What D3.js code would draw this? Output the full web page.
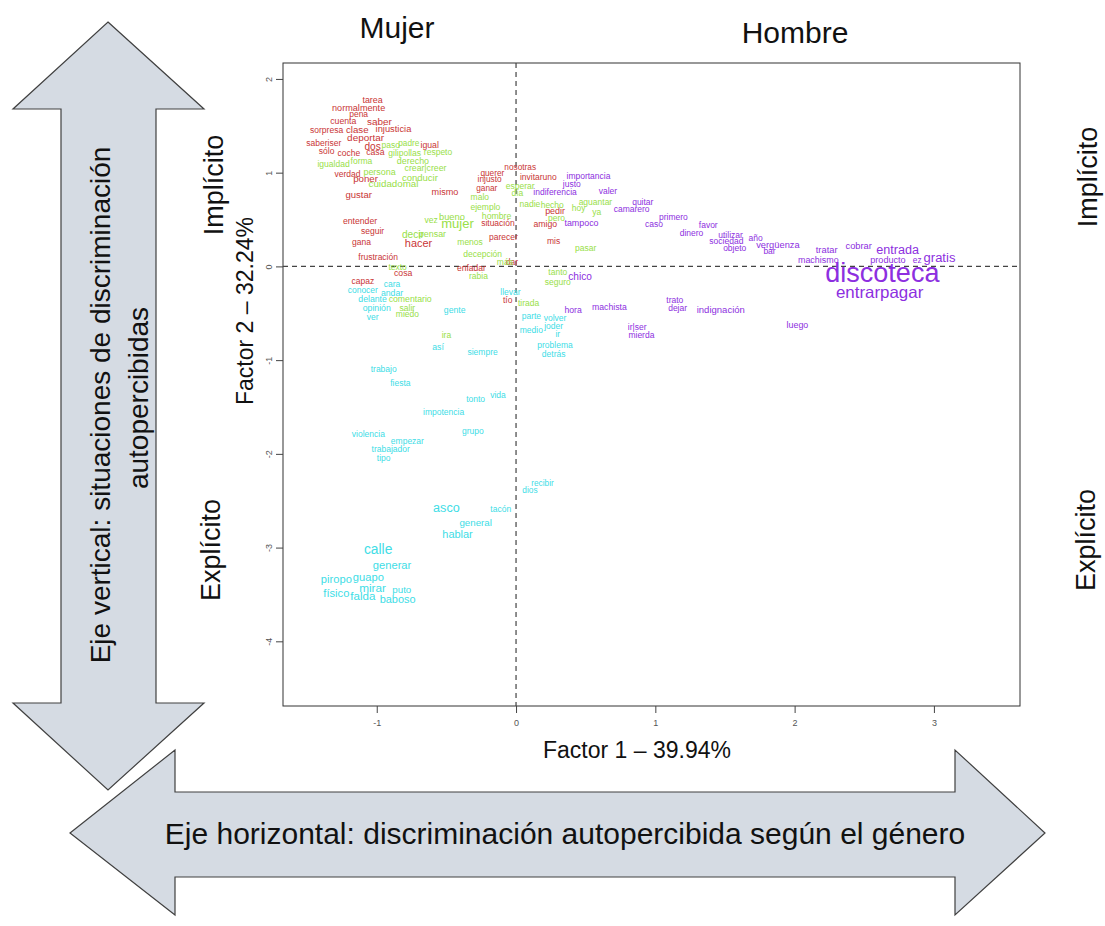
<!DOCTYPE html>
<html>
<head>
<meta charset="utf-8">
<script src="https://cdn.jsdelivr.net/npm/d3@7"></script>
<style>
body { margin: 0; background: #fff; }
text { font-family: "Liberation Sans", Arial, sans-serif; }
</style>
</head>
<body>
<svg id="chart" width="1105" height="926"></svg>
<script>
// words of the correspondence analysis: [word, factor 1, factor 2, weight]

var rojo = [
  ["tarea", -1.03, 1.78, 1.2], ["normalmente", -1.13, 1.69, 1.3], ["pena", -1.13, 1.63, 1],
  ["cuenta", -1.24, 1.55, 1.1], ["saber", -0.98, 1.55, 1.7], ["sorpresa", -1.36, 1.46, 1],
  ["clase", -1.14, 1.46, 1.6], ["injusticia", -0.88, 1.47, 1.4], ["deportar", -1.08, 1.38, 1.7],
  ["saberiser", -1.38, 1.32, 1], ["dos", -1.03, 1.28, 1.8], ["igual", -0.62, 1.30, 1.1],
  ["sólo", -1.36, 1.23, 1], ["coche", -1.20, 1.21, 1], ["casa", -1.01, 1.22, 1.1],
  ["verdad", -1.21, 0.99, 1], ["poner", -1.08, 0.94, 1.6], ["mismo", -0.51, 0.79, 1.3],
  ["gustar", -1.13, 0.77, 1.5], ["nosotras", 0.03, 1.06, 0.9], ["querer", -0.17, 1.00, 0.9],
  ["injusto", -0.19, 0.93, 0.9], ["ganar", -0.21, 0.84, 0.9], ["invitaruno", 0.16, 0.95, 1],
  ["pedir", 0.28, 0.59, 1.2], ["situación", -0.13, 0.46, 1], ["amigo", 0.21, 0.45, 1.1],
  ["parecer", -0.09, 0.31, 1], ["entender", -1.12, 0.48, 1.1], ["seguir", -1.03, 0.38, 1],
  ["gana", -1.11, 0.26, 1], ["hacer", -0.70, 0.25, 2.2], ["frustración", -0.99, 0.10, 1],
  ["mis", 0.27, 0.27, 1], ["dar", -0.03, 0.05, 1], ["enfadar", -0.32, -0.02, 1],
  ["cosa", -0.81, -0.07, 1.1], ["capaz", -1.10, -0.16, 1], ["tío", -0.06, -0.36, 1]
];

var verde = [
  ["paso", -0.90, 1.29, 1], ["padre", -0.77, 1.32, 0.9], ["gilipollas", -0.80, 1.21, 1],
  ["respeto", -0.56, 1.22, 1], ["igualdad", -1.31, 1.09, 1], ["forma", -1.11, 1.12, 1],
  ["derecho", -0.74, 1.12, 1.2], ["persona", -0.98, 1.01, 1.2], ["crear|creer", -0.65, 1.05, 1.1],
  ["conducir", -0.69, 0.95, 1.5], ["cuidadomal", -0.88, 0.88, 1.6], ["esperar", 0.03, 0.86, 1],
  ["día", 0.01, 0.78, 1], ["malo", -0.26, 0.74, 1], ["aguantar", 0.57, 0.69, 1],
  ["nadie", 0.10, 0.67, 1], ["hecho", 0.26, 0.66, 1], ["hoy", 0.45, 0.62, 1],
  ["ejemplo", -0.22, 0.63, 1], ["ya", 0.58, 0.58, 1], ["bueno", -0.46, 0.53, 1.4],
  ["hombre", -0.14, 0.54, 1.1], ["pero", 0.29, 0.52, 1], ["mujer", -0.42, 0.46, 3.2],
  ["vez", -0.61, 0.50, 1], ["pensar", -0.60, 0.35, 1.2], ["decir", -0.74, 0.34, 1.8],
  ["menos", -0.33, 0.26, 1], ["decepción", -0.24, 0.13, 1], ["pasar", 0.50, 0.20, 1],
  ["más", -0.08, 0.05, 1], ["texto", -0.85, -0.01, 1], ["rabia", -0.27, -0.10, 1],
  ["tanto", 0.30, -0.06, 1], ["seguro", 0.30, -0.17, 1], ["tirada", 0.09, -0.39, 1],
  ["comentario", -0.76, -0.35, 1.1], ["salir", -0.78, -0.44, 1], ["miedo", -0.78, -0.51, 1],
  ["ira", -0.50, -0.73, 1]
];

var cian = [
  ["llevar", -0.04, -0.27, 1], ["parte", 0.11, -0.53, 1], ["volver", 0.28, -0.55, 1],
  ["joder", 0.27, -0.64, 1], ["medio", 0.11, -0.68, 1], ["ir", 0.30, -0.72, 1],
  ["problema", 0.28, -0.84, 1], ["detrás", 0.27, -0.93, 1], ["gente", -0.44, -0.46, 1.1],
  ["cara", -0.89, -0.19, 1], ["conocer", -1.10, -0.25, 1], ["andar", -0.89, -0.28, 1.1],
  ["delante", -1.03, -0.35, 1.1], ["opinión", -1.00, -0.44, 1.1], ["ver", -1.03, -0.54, 1],
  ["así", -0.56, -0.86, 1.1], ["siempre", -0.24, -0.91, 1], ["trabajo", -0.95, -1.09, 1],
  ["fiesta", -0.83, -1.24, 1], ["tonto", -0.29, -1.41, 1], ["vida", -0.13, -1.37, 1],
  ["impotencia", -0.52, -1.55, 1], ["grupo", -0.31, -1.76, 1], ["violencia", -1.06, -1.79, 1],
  ["empezar", -0.78, -1.86, 1], ["trabajador", -0.90, -1.95, 1], ["tipo", -0.95, -2.04, 1],
  ["recibir", 0.19, -2.31, 0.9], ["dios", 0.10, -2.39, 0.9], ["asco", -0.50, -2.58, 3.0],
  ["tacón", -0.11, -2.59, 1], ["general", -0.29, -2.73, 1.6], ["hablar", -0.42, -2.86, 2.2],
  ["calle", -0.99, -3.02, 3.6], ["generar", -0.89, -3.19, 2.3], ["piropo", -1.29, -3.34, 2.3],
  ["guapo", -1.06, -3.31, 2.3], ["mirar", -1.03, -3.43, 2.6], ["puto", -0.82, -3.45, 1.6],
  ["físico", -1.29, -3.48, 2.3], ["falda", -1.10, -3.52, 2.5], ["baboso", -0.85, -3.55, 2.2]
];

var morado = [
  ["importancia", 0.52, 0.96, 1], ["justo", 0.40, 0.88, 1], ["indiferencia", 0.28, 0.79, 1],
  ["valer", 0.66, 0.80, 1], ["tampoco", 0.47, 0.46, 1.2], ["quitar", 0.91, 0.69, 1],
  ["camarero", 0.83, 0.61, 1], ["primero", 1.13, 0.53, 1], ["caso", 0.99, 0.45, 1],
  ["favor", 1.38, 0.44, 1], ["dinero", 1.26, 0.36, 1], ["utilizar", 1.54, 0.34, 1],
  ["sociedad", 1.51, 0.27, 1], ["objeto", 1.57, 0.20, 1], ["año", 1.72, 0.30, 1],
  ["vergüenza", 1.88, 0.23, 1.4], ["bar", 1.82, 0.16, 1], ["tratar", 2.23, 0.17, 1.4],
  ["cobrar", 2.46, 0.22, 1.4], ["entrada", 2.74, 0.17, 3.0], ["machismo", 2.17, 0.07, 1.2],
  ["producto", 2.67, 0.07, 1.3], ["ez", 2.88, 0.07, 0.9], ["gratis", 3.04, 0.10, 3.2],
  ["discoteca", 2.63, -0.07, 10], ["entrarpagar", 2.61, -0.28, 5.1], ["chico", 0.46, -0.11, 1.8],
  ["hora", 0.41, -0.46, 1.1], ["machista", 0.67, -0.43, 1.1], ["trato", 1.14, -0.36, 1],
  ["dejar", 1.16, -0.44, 1], ["ir|ser", 0.87, -0.65, 1], ["mierda", 0.90, -0.73, 1],
  ["indignación", 1.47, -0.46, 1.5], ["luego", 2.02, -0.62, 1.2]
];

var grupos = [rojo, verde, cian, morado];
var colores = ["#c93535", "#98e048", "#40dde6", "#8d2fe0"];
var ticksX = [-1, 0, 1, 2, 3];
var ticksY = [-4, -3, -2, -1, 0, 1, 2];

var svg = d3.select("#chart");

// arrows (background)
var fillArrow = "#d5dbe3", strokeArrow = "#404040";
var vArrow = [[108,22],[204,109],[156,109],[156,703],[204,703],[108,790],[13,703],[61,703],[61,109],[13,109]];
var hArrow = [[70,833],[175,750],[175,792],[955,792],[955,750],[1045,833],[955,915],[955,877],[175,877],[175,915]];
var line = d3.line();
svg.append("path").attr("d", line(vArrow) + "Z")
  .attr("fill", fillArrow).attr("stroke", strokeArrow).attr("stroke-width", 1.2);
svg.append("path").attr("d", line(hArrow) + "Z")
  .attr("fill", fillArrow).attr("stroke", strokeArrow).attr("stroke-width", 1.2);

svg.append("text").attr("transform", "translate(110,405) rotate(-90)")
  .attr("text-anchor", "middle").style("font-size", "28px").attr("fill", "#111")
  .text("Eje vertical: situaciones de discriminación");
svg.append("text").attr("transform", "translate(148,398) rotate(-90)")
  .attr("text-anchor", "middle").style("font-size", "28px").attr("fill", "#111")
  .text("autopercibidas");
svg.append("text").attr("x", 565).attr("y", 844)
  .attr("text-anchor", "middle").style("font-size", "30px").attr("fill", "#111")
  .text("Eje horizontal: discriminación autopercibida según el género");

// side labels
svg.append("text").attr("x", 397).attr("y", 38).attr("text-anchor", "middle")
  .style("font-size", "30px").attr("fill", "#111").text("Mujer");
svg.append("text").attr("x", 795).attr("y", 43).attr("text-anchor", "middle")
  .style("font-size", "30px").attr("fill", "#111").text("Hombre");
[[223,185,"Implícito"],[220,550,"Explícito"],[1097,177,"Implícito"],[1095,540,"Explícito"]].forEach(function(t){
  svg.append("text").attr("transform", "translate(" + t[0] + "," + t[1] + ") rotate(-90)")
    .attr("text-anchor", "middle").style("font-size", "27px").attr("fill", "#111").text(t[2]);
});

// plot
var x = d3.scaleLinear().domain([-1.673, 3.618]).range([283, 1020]);
var y = d3.scaleLinear().domain([2.17, -4.69]).range([63, 706]);
var size = d3.scaleLinear().domain([1, 10]).range([8.5, 27]);

svg.append("rect").attr("x", 283).attr("y", 63).attr("width", 1020 - 283).attr("height", 706 - 63)
  .attr("fill", "none").attr("stroke", "#333").attr("stroke-width", 1);

var gx = svg.append("g").attr("transform", "translate(0,706)")
  .call(d3.axisBottom(x).tickValues(ticksX).tickSize(7).tickFormat(function(d){ return String(d); }));
var gy = svg.append("g").attr("transform", "translate(283,0)")
  .call(d3.axisLeft(y).tickValues(ticksY).tickSize(7).tickFormat(function(d){ return String(d); }));
[gx, gy].forEach(function(g){
  g.select(".domain").remove();
  g.selectAll("line").attr("stroke", "#444");
  g.selectAll("text").style("font-size", "9px").attr("fill", "#555")
    .style("font-family", "'Liberation Sans', Arial, sans-serif");
});
gx.selectAll("text").attr("y", 14);
gy.selectAll("text").attr("transform", "rotate(-90)").attr("x", 0).attr("y", -11).attr("dy", 0)
  .style("text-anchor", "middle");

svg.append("line").attr("x1", x(0)).attr("x2", x(0)).attr("y1", 63).attr("y2", 706)
  .attr("stroke", "#444").attr("stroke-width", 1.2).attr("stroke-dasharray", "5,4");
svg.append("line").attr("x1", 283).attr("x2", 1020).attr("y1", y(0)).attr("y2", y(0))
  .attr("stroke", "#444").attr("stroke-width", 1.2).attr("stroke-dasharray", "5,4");

grupos.forEach(function(g, i){
  svg.append("g").selectAll("text").data(g).enter().append("text")
    .attr("x", function(d){ return x(d[1]); })
    .attr("y", function(d){ return y(d[2]); })
    .attr("text-anchor", "middle")
    .attr("dominant-baseline", "central")
    .style("font-size", function(d){ return size(d[3]) + "px"; })
    .attr("fill", colores[i])
    .text(function(d){ return d[0]; });
});

svg.append("text").attr("x", 637).attr("y", 758).attr("text-anchor", "middle")
  .style("font-size", "23px").attr("fill", "#111").text("Factor 1 – 39.94%");
svg.append("text").attr("transform", "translate(253,311) rotate(-90)").attr("text-anchor", "middle")
  .style("font-size", "23px").attr("fill", "#111").text("Factor 2 – 32.24%");
</script>
</body>
</html>
